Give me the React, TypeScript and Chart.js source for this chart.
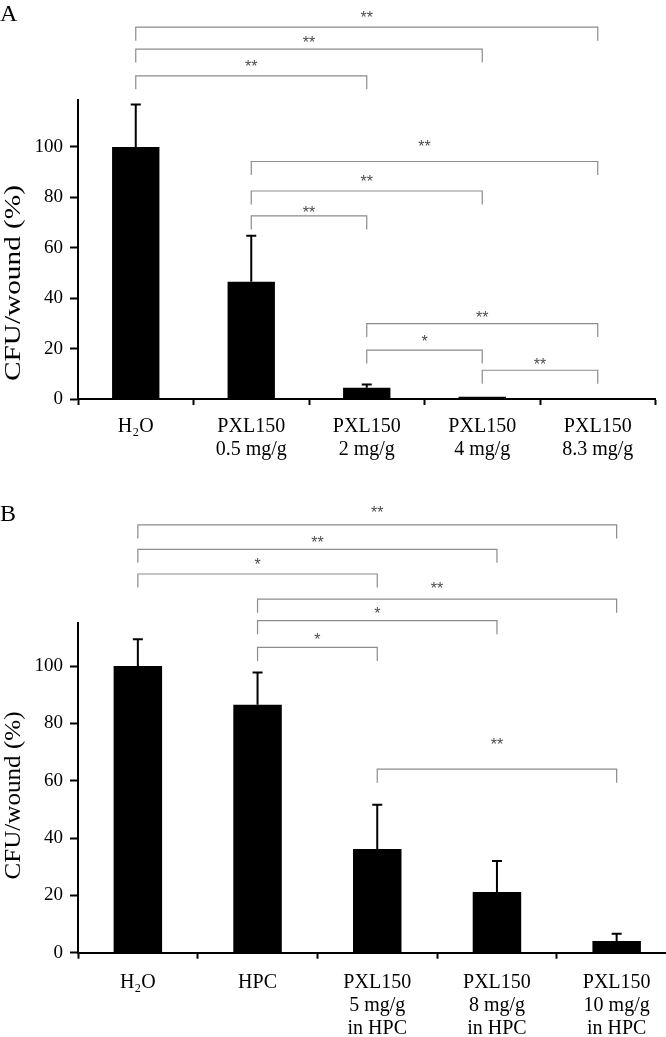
import { useEffect, useRef } from "react";
import { Chart, registerables } from "chart.js";

Chart.register(...registerables);

// ---------- Panel A data ----------
const categoriesA: string[][] = [
  ["H\u2082O"],
  ["PXL150", "0.5 mg/g"],
  ["PXL150", "2 mg/g"],
  ["PXL150", "4 mg/g"],
  ["PXL150", "8.3 mg/g"],
];
const valuesA = [100, 46.5, 4.5, 0.9, 0];
const errorsA = [16.8, 18.3, 1.3, 0, 0];
const bracketFromA = [0, 0, 0, 1, 1, 1, 2, 2, 3];
const bracketToA = [4, 3, 2, 4, 3, 2, 4, 3, 4];
const bracketLevelA = [147.5, 138.8, 128.2, 94.2, 82.5, 72.6, 29.9, 19.4, 11.4];
const bracketLabelLevelA = [152.8, 143.1, 133.2, 101.7, 87.8, 75.4, 34.0, 24.3, 15.1];
const bracketTextA = ["**", "**", "**", "**", "**", "**", "**", "*", "**"];

// ---------- Panel B data ----------
const categoriesB: string[][] = [
  ["H\u2082O"],
  ["HPC"],
  ["PXL150", "5 mg/g", "in HPC"],
  ["PXL150", "8 mg/g", "in HPC"],
  ["PXL150", "10 mg/g", "in HPC"],
];
const valuesB = [100, 86.5, 36.2, 21.2, 4.1];
const errorsB = [9.3, 11.2, 15.4, 10.8, 2.5];
const bracketFromB = [0, 0, 0, 1, 1, 1, 2];
const bracketToB = [4, 3, 2, 4, 3, 2, 4];
const bracketLevelB = [149.2, 140.7, 132.1, 123.3, 115.8, 106.5, 64.0];
const bracketLabelLevelB = [154.7, 144.3, 136.6, 128.3, 119.8, 110.7, 73.9];
const bracketTextB = ["**", "**", "*", "**", "*", "*", "**"];

const yTicksStep = 20;
const yTitle = "CFU/wound (%)";

const SERIF = '"Liberation Serif", "Times New Roman", Times, serif';
const SANS = '"Liberation Sans", Arial, sans-serif';

type PanelCfg = {
  letter: string;
  labels: string[][];
  values: number[];
  errors: number[];
  bFrom: number[];
  bTo: number[];
  bLevel: number[];
  bLabelLevel: number[];
  bText: string[];
  yMax: number;
  padTop: number;
  padRight: number;
  xHeight: number;
  xPad: number;
  barPct: number;
  titleCenterY: number;
  titleLength: number;
};

function buildChart(canvas: HTMLCanvasElement, p: PanelCfg) {
  const errorBars = {
    id: "errorBars",
    afterDatasetsDraw(chart: any) {
      const ctx = chart.ctx;
      const meta = chart.getDatasetMeta(0);
      const ys = chart.scales.y;
      ctx.save();
      ctx.strokeStyle = "#000";
      ctx.lineWidth = 2;
      meta.data.forEach((bar: any, i: number) => {
        const e = p.errors[i];
        if (!e) return;
        const yb = ys.getPixelForValue(p.values[i]);
        const yt = ys.getPixelForValue(p.values[i] + e);
        ctx.beginPath();
        ctx.moveTo(bar.x, yb);
        ctx.lineTo(bar.x, yt);
        ctx.moveTo(bar.x - 5, yt);
        ctx.lineTo(bar.x + 5, yt);
        ctx.stroke();
      });
      ctx.restore();
    },
  };

  const brackets = {
    id: "brackets",
    afterDraw(chart: any) {
      const ctx = chart.ctx;
      const xs = chart.scales.x;
      const ys = chart.scales.y;
      const leg = 13.5;
      const fs = 16;
      ctx.save();
      ctx.strokeStyle = "#8c8c8c";
      ctx.lineWidth = 1.2;
      ctx.fillStyle = "#4d4d4d";
      ctx.font = `${fs}px ${SANS}`;
      ctx.textAlign = "center";
      ctx.textBaseline = "alphabetic";
      p.bFrom.forEach((f, i) => {
        const x1 = xs.getPixelForValue(f);
        const x2 = xs.getPixelForValue(p.bTo[i]);
        const y = ys.getPixelForValue(p.bLevel[i]);
        ctx.beginPath();
        ctx.moveTo(x1, y + leg);
        ctx.lineTo(x1, y);
        ctx.lineTo(x2, y);
        ctx.lineTo(x2, y + leg);
        ctx.stroke();
        const ly = ys.getPixelForValue(p.bLabelLevel[i]);
        ctx.fillText(p.bText[i], (x1 + x2) / 2, ly + 0.58 * fs);
      });
      ctx.restore();
    },
  };

  const texts = {
    id: "texts",
    afterDraw(chart: any) {
      const ctx = chart.ctx;
      ctx.save();
      ctx.fillStyle = "#000";
      ctx.font = `24px ${SERIF}`;
      ctx.textAlign = "left";
      ctx.textBaseline = "alphabetic";
      ctx.fillText(p.letter, 0, 21);
      const fs = 24;
      ctx.font = `${fs}px ${SERIF}`;
      const w = ctx.measureText(yTitle).width;
      ctx.translate(20, p.titleCenterY);
      ctx.rotate(-Math.PI / 2);
      ctx.scale(p.titleLength / w, 1);
      ctx.textAlign = "center";
      ctx.fillText(yTitle, 0, 0);
      ctx.restore();
    },
  };

  return new Chart(canvas, {
    type: "bar",
    data: {
      labels: p.labels,
      datasets: [
        {
          data: p.values,
          backgroundColor: "#000",
          borderWidth: 0,
          categoryPercentage: 1,
          barPercentage: p.barPct,
        },
      ],
    },
    options: {
      responsive: false,
      animation: false,
      events: [],
      layout: { padding: { top: p.padTop, right: p.padRight, left: 0, bottom: 0 } },
      plugins: {
        legend: { display: false },
        tooltip: { enabled: false },
      },
      scales: {
        x: {
          grid: {
            offset: true,
            drawOnChartArea: false,
            tickLength: 6,
            tickWidth: 2,
            tickColor: "#000",
          },
          border: { color: "#000", width: 2 },
          ticks: {
            color: "#000",
            font: { family: SERIF, size: 20, lineHeight: 1.15 },
            padding: p.xPad,
            maxRotation: 0,
            autoSkip: false,
          },
          afterFit: (s: any) => {
            s.height = p.xHeight;
          },
        },
        y: {
          min: 0,
          max: p.yMax,
          ticks: {
            stepSize: yTicksStep,
            includeBounds: false,
            color: "#000",
            font: { family: SERIF, size: 19 },
            padding: 7,
          },
          grid: {
            drawOnChartArea: false,
            tickLength: 8,
            tickWidth: 2,
            tickColor: "#000",
          },
          border: { color: "#000", width: 2 },
          afterFit: (s: any) => {
            s.width = 78;
          },
        },
      },
    } as any,
    plugins: [errorBars, brackets, texts],
  });
}

function Panel({ cfg, width, height, top }: { cfg: PanelCfg; width: number; height: number; top: number }) {
  const ref = useRef<HTMLCanvasElement | null>(null);
  useEffect(() => {
    if (!ref.current) return;
    const c = buildChart(ref.current, cfg);
    return () => c.destroy();
  }, []);
  return (
    <canvas
      ref={ref}
      width={width}
      height={height}
      style={{ position: "absolute", left: 0, top, width, height }}
    />
  );
}

const cfgA: PanelCfg = {
  letter: "A",
  labels: categoriesA,
  values: valuesA,
  errors: errorsA,
  bFrom: bracketFromA,
  bTo: bracketToA,
  bLevel: bracketLevelA,
  bLabelLevel: bracketLabelLevelA,
  bText: bracketTextA,
  yMax: 118.6,
  padTop: 100,
  padRight: 10.5,
  xHeight: 101,
  xPad: 10,
  barPct: 0.41,
  titleCenterY: 283,
  titleLength: 196,
};

const cfgB: PanelCfg = {
  letter: "B",
  labels: categoriesB,
  values: valuesB,
  errors: errorsB,
  bFrom: bracketFromB,
  bTo: bracketToB,
  bLevel: bracketLevelB,
  bLabelLevel: bracketLabelLevelB,
  bText: bracketTextB,
  yMax: 114.9,
  padTop: 123.3,
  padRight: 13.5,
  xHeight: 84.3,
  xPad: 13,
  barPct: 0.405,
  titleCenterY: 295.5,
  titleLength: 168,
};

export default function App() {
  return (
    <div
      style={{
        position: "absolute",
        left: 0,
        top: 0,
        width: 666,
        height: 1037,
        overflow: "hidden",
        background: "#fff",
      }}
    >
      <Panel cfg={cfgA} width={666} height={500} top={0} />
      <Panel cfg={cfgB} width={690} height={537} top={500} />
    </div>
  );
}
